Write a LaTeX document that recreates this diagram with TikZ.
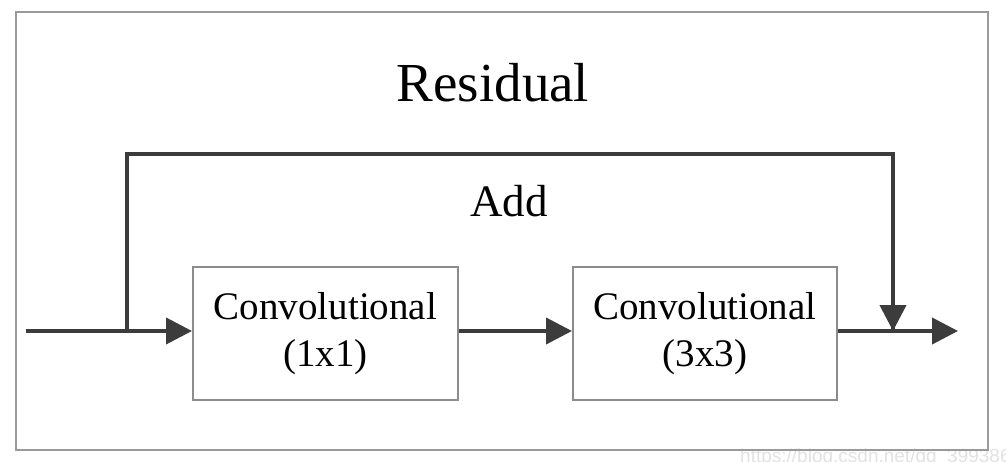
\documentclass[tikz,border=0pt]{standalone}
\usepackage{fontspec}
\setmainfont{Liberation Serif}
\newfontfamily\wmfont{Liberation Sans}
\usetikzlibrary{arrows.meta}
\definecolor{linec}{HTML}{3C3C3C}
\definecolor{boxc}{HTML}{8C8C8C}
\definecolor{framec}{HTML}{9A9A9A}
\definecolor{wmc}{HTML}{E2E2E2}
\tikzset{
  flow/.style={draw=linec, line width=4pt, -{Triangle[length=26pt,width=26pt]}},
  plain/.style={draw=linec, line width=4pt},
  convbox/.style={draw=boxc, line width=1.8pt, minimum width=265pt, minimum height=133pt,
    inner sep=0pt, align=center, font=\fontsize{39}{47}\selectfont, anchor=north west},
}
\begin{document}
\begin{tikzpicture}[x=1pt,y=-1pt]
\useasboundingbox (0,0) rectangle (1006,462);
\fill[white] (0,0) rectangle (1006,462);
% watermark
\begin{scope}
\clip (0,0) rectangle (1006,462);
\node[anchor=north west, inner sep=0pt, text=wmc, font=\wmfont\fontsize{19}{19}\selectfont] (wm) at (740,449) {https://blog.csdn.net/qq\_39938666};
\end{scope}
% outer frame
\node[draw=framec, line width=2pt, minimum width=972pt, minimum height=438pt, anchor=north west, inner sep=0pt] (frame) at (15,11) {};
% titles
\node[font=\fontsize{55}{60}\selectfont, anchor=base] (res) at (493,102) {Residual};
\node[font=\fontsize{45}{50}\selectfont, anchor=base] (add) at (509,217) {Add};
% boxes
\node[convbox] (c1) at (192,266) {Convolutional\\(1x1)};
\node[convbox, minimum width=264pt] (c2) at (572,266) {Convolutional\\(3x3)};
% coordinates
\coordinate (in) at (26,331);
\coordinate (split) at (127,331);
\coordinate (tl) at (127,154);
\coordinate (tr) at (893,154);
\coordinate (join) at (893,331);
\coordinate (out) at (958,331);
% connectors
\draw[flow] (in) -- (c1.west |- in);
\draw[flow] (c1.east |- in) -- (c2.west |- in);
\draw[plain, shorten >=0pt] (c2.east |- in) -- (join);
\draw[flow] (join) -- (out);
\draw[plain, line join=miter] (split) -- (tl) -- (tr) -- ([yshift=-2pt]join);
\draw[flow] (tr) -- (join);
\end{tikzpicture}
\end{document}
